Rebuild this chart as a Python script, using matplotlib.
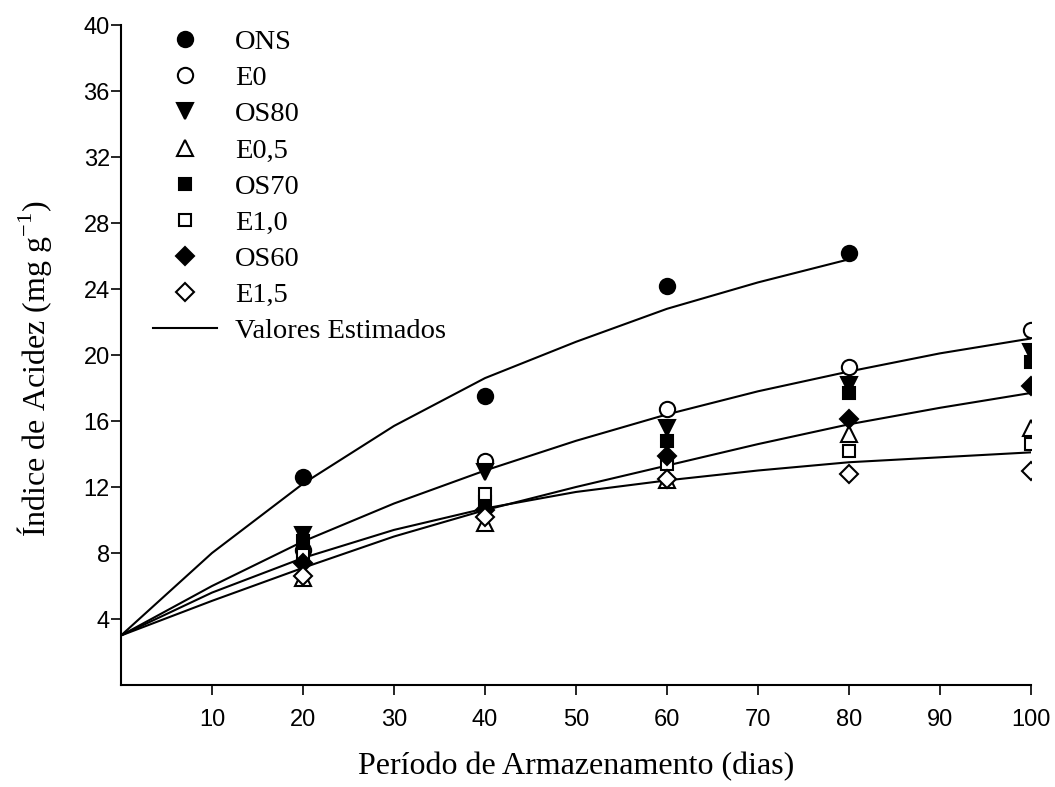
import matplotlib.pyplot as plt
from matplotlib.lines import Line2D

dias = [20, 40, 60, 80, 100]

ons = [12.6, 17.5, 24.2, 26.2]
e0 = [8.2, 13.6, 16.7, 19.3, 21.5]
os80 = [9.1, 12.9, 15.6, 18.2, 20.2]
e05 = [6.5, 9.8, 12.4, 15.2, 15.6]
os70 = [8.7, 11.1, 14.8, 17.7, 19.6]
e10 = [7.9, 11.6, 13.4, 14.2, 14.6]
os60 = [7.4, 10.6, 13.9, 16.1, 18.1]
e15 = [6.6, 10.2, 12.5, 12.8, 13.0]

# valores estimados
dias_est = [0, 10, 20, 30, 40, 50, 60, 70, 80, 90, 100]
est_ons = [3.0, 8.0, 12.2, 15.7, 18.6, 20.8, 22.8, 24.4, 25.8]
est_1 = [3.0, 6.0, 8.7, 11.0, 13.0, 14.8, 16.4, 17.8, 19.0, 20.1, 21.0]
est_2 = [3.0, 5.1, 7.1, 9.0, 10.6, 12.0, 13.3, 14.6, 15.8, 16.8, 17.7]
est_3 = [3.0, 5.6, 7.7, 9.4, 10.7, 11.7, 12.4, 13.0, 13.5, 13.8, 14.1]

serif = ['Liberation Serif', 'DejaVu Serif']
sans = ['Liberation Sans', 'DejaVu Sans']

fig = plt.figure(figsize=(10.55, 7.87), dpi=100)
ax = fig.add_axes([121 / 1055, 1 - 685 / 787, 910 / 1055, 660 / 787])

lw = 1.5
ax.plot(dias_est[:len(est_ons)], est_ons, color='black', lw=lw)
for est in (est_1, est_2, est_3):
    ax.plot(dias_est, est, color='black', lw=lw)

ms = 11
series = [
    (ons, 'o', 'black', 'ONS'),
    (e0, 'o', 'white', 'E0'),
    (os80, 'v', 'black', 'OS80'),
    (e05, '^', 'white', 'E0,5'),
    (os70, 's', 'black', 'OS70'),
    (e10, 's', 'white', 'E1,0'),
    (os60, 'D', 'black', 'OS60'),
    (e15, 'D', 'white', 'E1,5'),
]
handles = []
for vals, mk, fc, lab in series:
    size = ms - 2 if mk in ('s', 'D') else ms
    ax.plot(dias[:len(vals)], vals, ls='none', marker=mk, ms=size,
            mfc=fc, mec='black', mew=1.5, zorder=3)
    handles.append(Line2D([], [], ls='none', marker=mk, ms=size,
                          mfc=fc, mec='black', mew=1.5, label=lab))
handles.append(Line2D([], [], color='black', lw=lw, label='Valores Estimados'))

ax.set_xlim(0, 100)
ax.set_ylim(0, 40)
ax.set_xticks(range(10, 101, 10))
ax.set_yticks(range(4, 41, 4))
for s in ('top', 'right'):
    ax.spines[s].set_visible(False)
ax.spines['left'].set_linewidth(1.5)
ax.spines['bottom'].set_linewidth(1.5)
ax.tick_params(direction='out', length=7, width=1.2, labelsize=17)
ax.tick_params(axis='x', pad=10)
ax.tick_params(axis='y', pad=1)
for t in ax.get_xticklabels() + ax.get_yticklabels():
    t.set_family(sans)

ax.set_xlabel('Período de Armazenamento (dias)', family=serif, fontsize=23)
ax.set_ylabel('Índice de Acidez (mg g$^{\\mathregular{-1}}$)', family=serif, fontsize=23)
ax.xaxis.set_label_coords(0.5, -0.102)
ax.yaxis.set_label_coords(-0.074, 0.479)

leg = ax.legend(handles=handles, loc='upper left',
                bbox_to_anchor=(153 / 1055, 1 - 29 / 787), bbox_transform=fig.transFigure,
                frameon=False, prop={'family': serif, 'size': 20.5},
                borderpad=0, borderaxespad=0,
                handlelength=2.25, handletextpad=0.63, labelspacing=0.36)

fig.savefig('out.png', dpi=100)
